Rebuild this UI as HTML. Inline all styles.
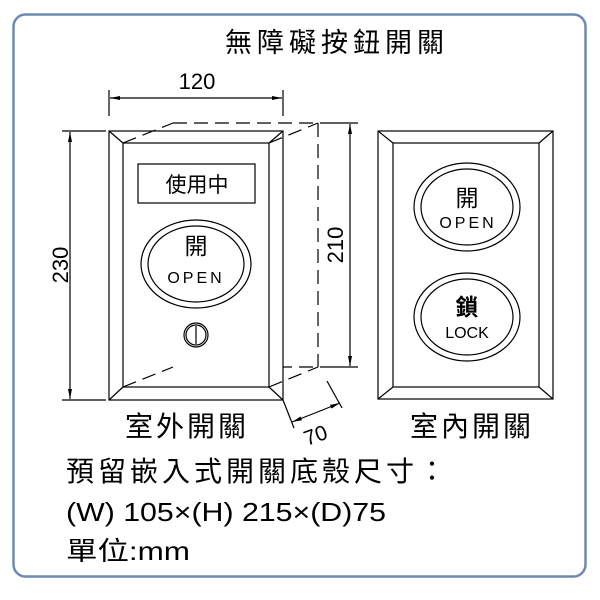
<!DOCTYPE html>
<html><head><meta charset="utf-8"><style>
html,body{margin:0;padding:0;background:#fff;}
svg{display:block;}
text{font-family:"Liberation Sans","Noto Sans CJK TC",sans-serif;fill:#000;}
</style></head><body>
<svg width="600" height="600" viewBox="0 0 600 600" xmlns="http://www.w3.org/2000/svg">
<defs>
<marker id="a" markerWidth="10" markerHeight="6" refX="10" refY="3" orient="auto" markerUnits="userSpaceOnUse"><path d="M0,1 L10,3 L0,5 Z" fill="#000"/></marker>
</defs>
<rect x="13.5" y="14.5" width="572" height="562" rx="12" fill="#fff" stroke="#6f8ab0" stroke-width="2.5"/>
<text x="337" y="52" font-size="27" text-anchor="middle" letter-spacing="5">無障礙按鈕開關</text>

<g stroke="#000" fill="none" stroke-width="1.2">
<line x1="109" y1="90" x2="109" y2="116"/><line x1="283" y1="90" x2="283" y2="116"/>
<line x1="197" y1="98" x2="110" y2="98" marker-end="url(#a)"/><line x1="197" y1="98" x2="282" y2="98" marker-end="url(#a)"/>
<line x1="62" y1="131" x2="106" y2="131"/><line x1="62" y1="400" x2="106" y2="400"/>
<line x1="70" y1="265" x2="70" y2="132" marker-end="url(#a)"/><line x1="70" y1="265" x2="70" y2="399" marker-end="url(#a)"/>
<line x1="320" y1="123" x2="358" y2="123"/><line x1="320" y1="367" x2="358" y2="367"/>
<line x1="350" y1="245" x2="350" y2="124" marker-end="url(#a)"/><line x1="350" y1="245" x2="350" y2="366" marker-end="url(#a)"/>
<line x1="283" y1="400" x2="294" y2="428"/><line x1="327" y1="381" x2="342" y2="408"/>
<line x1="315" y1="413" x2="292" y2="422" marker-end="url(#a)"/><line x1="315" y1="413" x2="340" y2="403" marker-end="url(#a)"/>
<g stroke-dasharray="14,7">
<line x1="173" y1="123" x2="318" y2="123"/><line x1="318" y1="123" x2="318" y2="367"/><line x1="173" y1="367" x2="318" y2="367"/>
</g>
<rect x="109" y="131" width="174" height="269" fill="#fff"/>
<rect x="123" y="143" width="146" height="244"/>
<line x1="109" y1="131" x2="123" y2="143"/><line x1="283" y1="131" x2="269" y2="143"/>
<line x1="109" y1="400" x2="123" y2="387"/><line x1="283" y1="400" x2="269" y2="387"/>
<g stroke-dasharray="14,7">
<line x1="123" y1="387" x2="173" y2="367"/><line x1="269" y1="387" x2="318" y2="367"/>
<line x1="123" y1="143" x2="173" y2="123"/><line x1="269" y1="143" x2="318" y2="123"/>
</g>
<rect x="138" y="164" width="117" height="39"/>
<ellipse cx="196" cy="264" rx="55" ry="44"/><ellipse cx="196" cy="264" rx="48" ry="38"/>
<circle cx="196" cy="335" r="12"/><circle cx="196" cy="335" r="10"/><line x1="196" y1="326" x2="196" y2="344"/>
<rect x="378" y="131" width="175" height="268"/>
<rect x="393" y="143" width="146" height="244"/>
<line x1="378" y1="131" x2="393" y2="143"/><line x1="553" y1="131" x2="539" y2="143"/>
<line x1="378" y1="399" x2="393" y2="387"/><line x1="553" y1="399" x2="539" y2="387"/>
<ellipse cx="467" cy="207" rx="53" ry="44"/><ellipse cx="467" cy="207" rx="46" ry="38"/>
<ellipse cx="467" cy="317" rx="53" ry="44"/><ellipse cx="467" cy="317" rx="46" ry="38"/>
</g>

<text x="197" y="89" font-size="22" text-anchor="middle">120</text>
<text transform="translate(68,265) rotate(-90)" font-size="22" text-anchor="middle">230</text>
<text transform="translate(343,245) rotate(-90)" font-size="22" text-anchor="middle">210</text>
<text transform="translate(318,442) rotate(-20)" font-size="21" text-anchor="middle">70</text>
<text x="197" y="192" font-size="21" text-anchor="middle">使用中</text>
<text x="196" y="254" font-size="23" text-anchor="middle">開</text>
<text x="196" y="283" font-size="16" text-anchor="middle" letter-spacing="3">OPEN</text>
<text x="467" y="206" font-size="23" text-anchor="middle">開</text>
<text x="468" y="228" font-size="16" text-anchor="middle" letter-spacing="3">OPEN</text>
<text x="467" y="315" font-size="23" text-anchor="middle" font-weight="bold">鎖</text>
<text x="467" y="338" font-size="16" text-anchor="middle">LOCK</text>
<text x="187" y="436" font-size="28" text-anchor="middle" letter-spacing="3">室外開關</text>
<text x="472" y="436" font-size="28" text-anchor="middle" letter-spacing="3">室內開關</text>
<text x="66" y="481" font-size="28" letter-spacing="4">預留嵌入式開關底殼尺寸：</text>
<text x="66" y="521" font-size="26" textLength="320" lengthAdjust="spacingAndGlyphs">(W) 105×(H) 215×(D)75</text>
<text x="66" y="560" font-size="26" textLength="124" lengthAdjust="spacingAndGlyphs">單位:mm</text>
</svg>
</body></html>
